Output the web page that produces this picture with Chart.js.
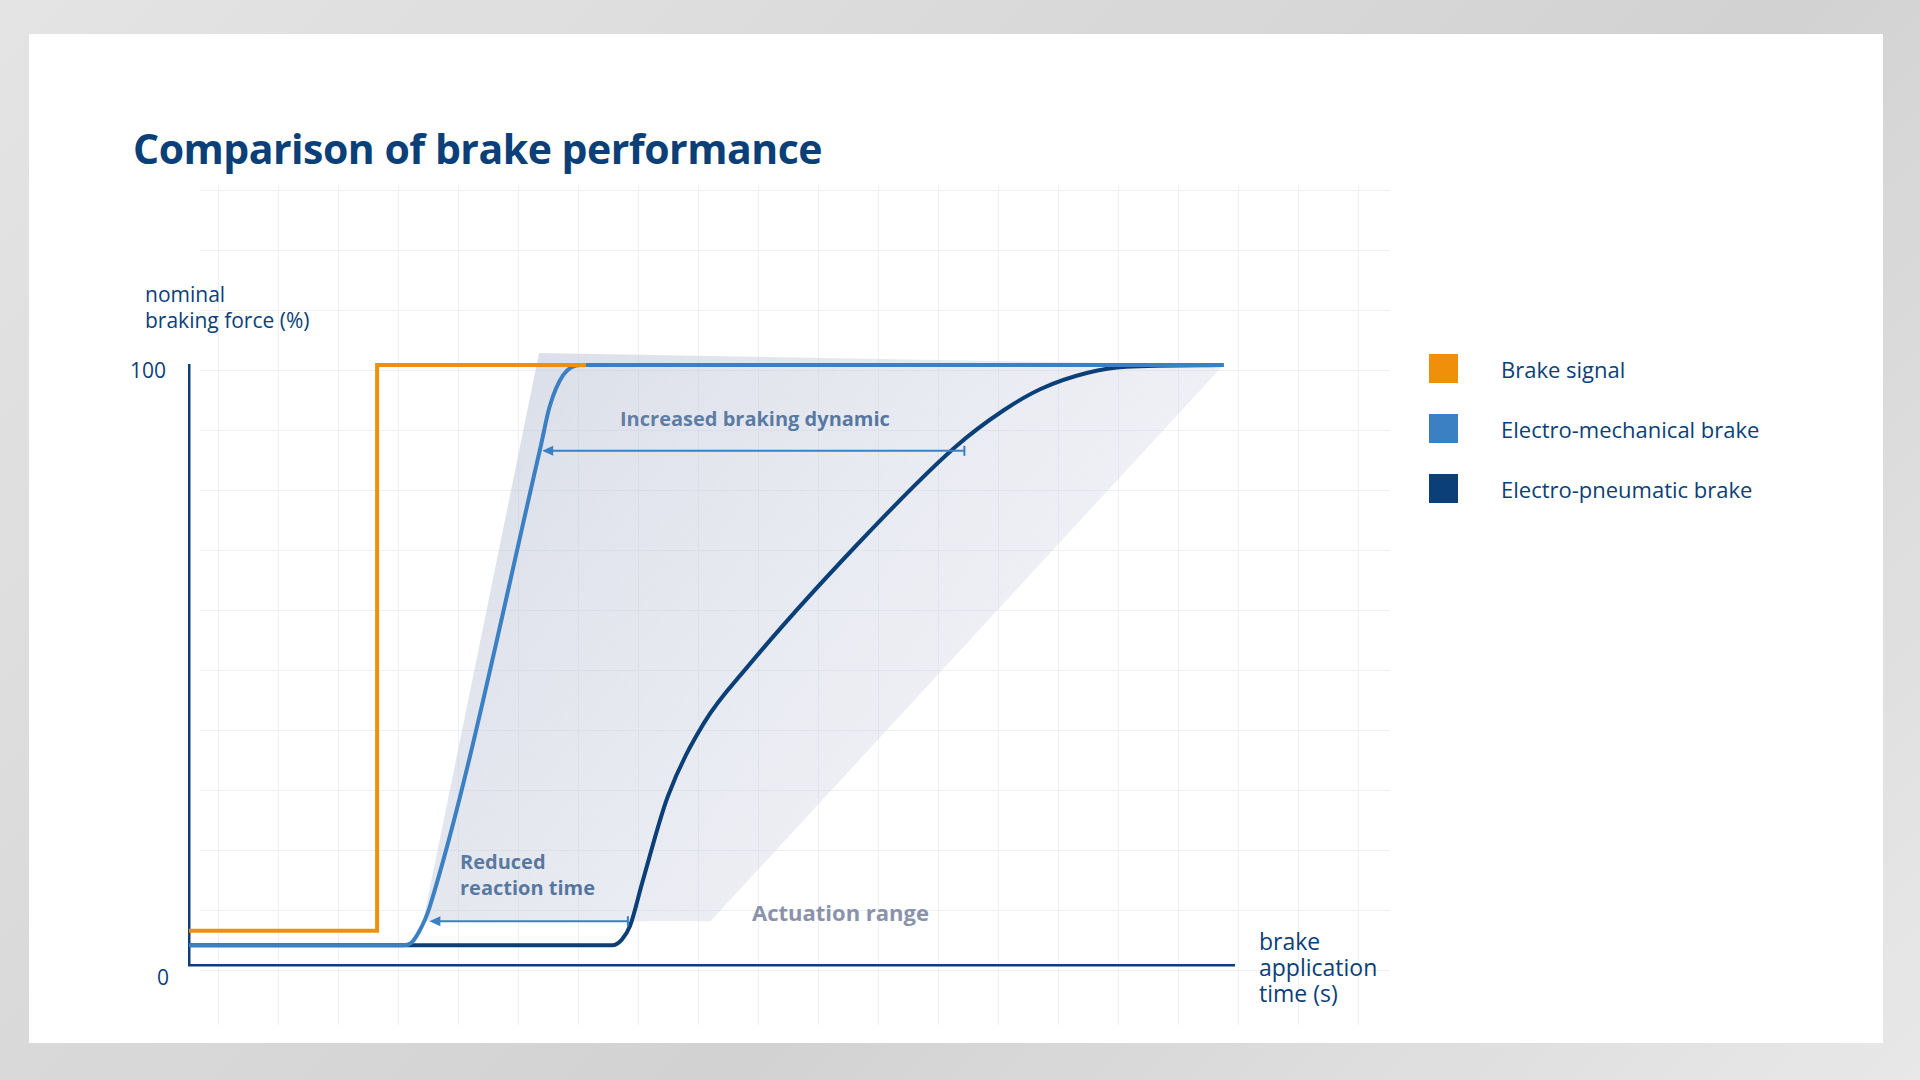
<!DOCTYPE html>
<html><head><meta charset="utf-8">
<script src="https://cdn.jsdelivr.net/npm/chart.js@4"></script>
<style>
body{margin:0;width:1920px;height:1080px;background:linear-gradient(135deg,#e4e4e4,#d2d2d2 60%,#e8e8e8);font-family:"Open Sans",sans-serif;color:#0b3f78;position:relative;overflow:hidden}
#card{position:absolute;left:29px;top:34px;width:1854px;height:1009px;background:#fff}
#grid{position:absolute;left:200px;top:185px;width:1190px;height:840px;
 background-image:linear-gradient(to right,#eef0f4 1px,transparent 1px),linear-gradient(to bottom,#eef0f4 1px,transparent 1px);
 background-size:60px 60px;background-position:18px 5px}
.t{position:absolute;white-space:nowrap}
#chartwrap{position:absolute;left:0;top:0;width:1920px;height:1080px}
.sq{position:absolute;width:29px;height:29px}
</style></head><body>
<div id="card"></div>
<div id="grid"></div>
<div class="t" style="left:133px;top:120px;font-size:41px;font-weight:700;letter-spacing:-0.5px">Comparison of brake performance</div>
<div class="t" style="left:145px;top:281px;font-size:21px;line-height:26px">nominal<br>braking force (%)</div>
<div class="t" style="left:130px;top:356px;font-size:21px">100</div>
<div class="t" style="left:157px;top:963px;font-size:21px">0</div>
<div class="t" style="left:1259px;top:928px;font-size:23px;line-height:26px">brake<br>application<br>time (s)</div>
<div class="t" style="left:620px;top:405px;font-size:20px;font-weight:700">Increased braking dynamic</div>
<div class="t" style="left:460px;top:849px;font-size:20px;font-weight:700;line-height:26px">Reduced<br>reaction time</div>
<div class="t" style="left:752px;top:897px;font-size:22px;font-weight:700;color:#8a93ab">Actuation range</div>
<div class="sq" style="left:1429px;top:354px;background:#f0900a"></div>
<div class="sq" style="left:1429px;top:414px;background:#3a80c3"></div>
<div class="sq" style="left:1429px;top:474px;background:#0b3f78"></div>
<div class="t" style="left:1501px;top:354px;font-size:22px">Brake signal</div>
<div class="t" style="left:1501px;top:414px;font-size:22px">Electro-mechanical brake</div>
<div class="t" style="left:1501px;top:474px;font-size:22px">Electro-pneumatic brake</div>
<div id="chartwrap"><canvas id="c" width="1920" height="1080"></canvas></div>
<script>
// time in s (0..10), force in %
var brakeSignal = [[0,5.7],[1.80,5.7],[1.80,100],[3.8,100]];
var electroMech = [[0,3.3],[2.05,3.3],[2.12,3.6],[2.2,5.5],[2.3,9.5],[3.36,86],[3.45,93],[3.58,98.3],[3.75,100],[9.9,100]];
var electroPneu = [[0,3.3],[4.05,3.3],[4.14,4.2],[4.22,6.5],[4.34,13.9],[4.58,28],[4.93,40.4],[5.34,49.6],[6.39,70],[7.33,86.3],[7.8,92.5],[8.15,96],[8.6,98.7],[8.97,99.7],[9.9,100]];
var rangePoly = [[3.35,102],[9.9,100],[4.99,7.3],[2.24,7.3]];
var arrows = [
  { from: 3.38, to: 7.42, y: 85.7 },
  { from: 2.30, to: 4.20, y: 7.3 }
];

function pts(a) { return a.map(function(p) { return { x: p[0], y: p[1] }; }); }

var extras = {
  id: 'extras',
  beforeDatasetsDraw: function(chart) {
    var ctx = chart.ctx, xs = chart.scales.x, ys = chart.scales.y;
    var p = rangePoly.map(function(q) { return [xs.getPixelForValue(q[0]), ys.getPixelForValue(q[1])]; });
    var g = ctx.createLinearGradient(p[3][0], p[0][1], p[1][0], p[2][1]);
    g.addColorStop(0, 'rgba(185,192,212,0.55)');
    g.addColorStop(1, 'rgba(210,215,228,0.2)');
    ctx.save();
    ctx.beginPath();
    p.forEach(function(q, i) { if (i) ctx.lineTo(q[0], q[1]); else ctx.moveTo(q[0], q[1]); });
    ctx.closePath();
    ctx.fillStyle = g;
    ctx.fill();
    ctx.restore();
  },
  afterDatasetsDraw: function(chart) {
    var ctx = chart.ctx, xs = chart.scales.x, ys = chart.scales.y;
    ctx.save();
    ctx.strokeStyle = '#3a80c3';
    ctx.fillStyle = '#3a80c3';
    ctx.lineWidth = 2;
    arrows.forEach(function(a) {
      var x1 = xs.getPixelForValue(a.from), x2 = xs.getPixelForValue(a.to), y = ys.getPixelForValue(a.y);
      ctx.beginPath(); ctx.moveTo(x1 + 4, y); ctx.lineTo(x2, y); ctx.stroke();
      ctx.beginPath(); ctx.moveTo(x2, y - 5); ctx.lineTo(x2, y + 5); ctx.stroke();
      ctx.beginPath(); ctx.moveTo(x1, y); ctx.lineTo(x1 + 11, y - 5); ctx.lineTo(x1 + 11, y + 5); ctx.closePath(); ctx.fill();
    });
    ctx.restore();
  }
};

function line(data, color) {
  return { data: pts(data), borderColor: color, borderWidth: 4, pointRadius: 0, showLine: true,
           fill: false, clip: false, cubicInterpolationMode: 'monotone', borderJoinStyle: 'round' };
}

var ds0 = line(brakeSignal, '#f0900a'); ds0.cubicInterpolationMode = 'default'; ds0.tension = 0; ds0.borderJoinStyle = 'miter';

new Chart(document.getElementById('c'), {
  type: 'scatter',
  data: { datasets: [ds0, line(electroMech, '#3a80c3'), line(electroPneu, '#0b3f78')] },
  options: {
    responsive: false,
    animation: false,
    layout: { padding: { left: 189, right: 686, top: 365, bottom: 115 } },
    plugins: { legend: { display: false }, tooltip: { enabled: false } },
    scales: {
      x: { type: 'linear', min: 0, max: 10, grid: { display: false, drawTicks: false },
           ticks: { display: false }, border: { color: '#0b3f78', width: 2.5 },
           afterFit: function(s) { s.height = 0; } },
      y: { min: 0, max: 100, grid: { display: false, drawTicks: false },
           ticks: { display: false }, border: { color: '#0b3f78', width: 2.5 },
           afterFit: function(s) { s.width = 0; } }
    }
  },
  plugins: [extras]
});
</script>
</body></html>
